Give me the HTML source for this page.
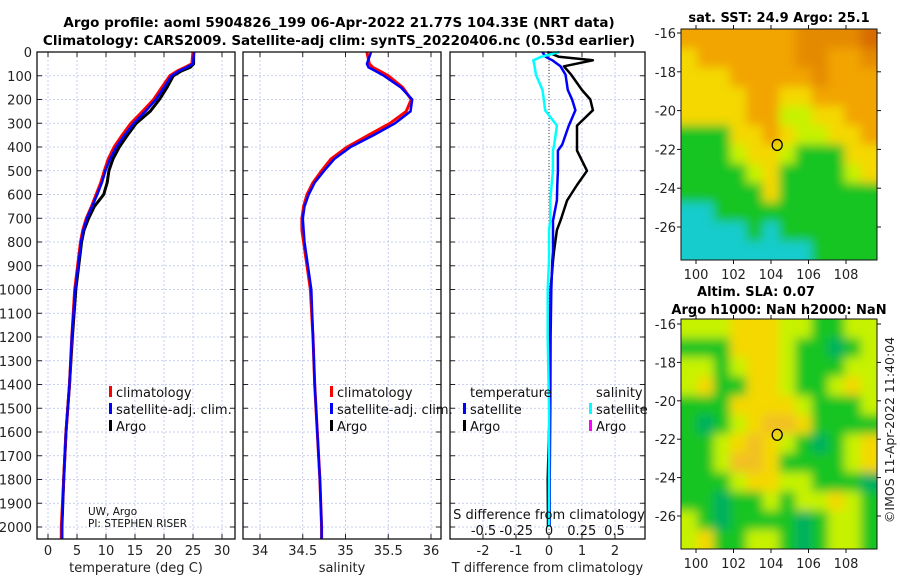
<!DOCTYPE html>
<html><head><meta charset="utf-8">
<style>
html,body{margin:0;padding:0;background:#fff;}
body{width:900px;height:580px;overflow:hidden;font-family:"DejaVu Sans","Liberation Sans",sans-serif;}
svg text{font-family:"DejaVu Sans","Liberation Sans",sans-serif;}
</style></head>
<body>
<svg id="chart" width="900" height="580" viewBox="0 0 900 580" xmlns="http://www.w3.org/2000/svg">
<defs>
<filter id="blur" x="-5%" y="-5%" width="110%" height="110%"><feGaussianBlur stdDeviation="5"/></filter>
<clipPath id="clipTop"><rect x="681" y="29" width="196" height="231"/></clipPath>
<clipPath id="clipBot"><rect x="681" y="319" width="196" height="230"/></clipPath>
</defs>
<g id="titles">
<text x="339" y="27" font-size="13.5" font-weight="bold" text-anchor="middle">Argo profile: aoml 5904826_199 06-Apr-2022 21.77S 104.33E (NRT data)</text>
<text x="339" y="45" font-size="13.5" font-weight="bold" text-anchor="middle">Climatology: CARS2009. Satellite-adj clim: synTS_20220406.nc (0.53d earlier)</text>
<text x="779" y="22" font-size="13" font-weight="bold" text-anchor="middle">sat. SST: 24.9 Argo: 25.1</text>
<text x="756" y="296" font-size="13" font-weight="bold" text-anchor="middle">Altim. SLA: 0.07</text>
<text x="779" y="314" font-size="13" font-weight="bold" text-anchor="middle">Argo h1000: NaN h2000: NaN</text>
<text transform="translate(894,430) rotate(-90)" font-size="12.5" fill="#222" text-anchor="middle">©IMOS 11-Apr-2022 11:40:04</text>
</g>
<g id="panels"></g>
<g id="maps"></g>
</svg>
<script>
// ---------- data ----------
const depthTicks = [0,100,200,300,400,500,600,700,800,900,1000,1100,1200,1300,1400,1500,1600,1700,1800,1900,2000];
const tempTicks = [0,5,10,15,20,25,30];
const salTicks = [34,34.5,35,35.5,36];
const salTickLabels = ["34","34.5","35","35.5","36"];
const tdiffTicks = [-2,-1,0,1,2];
const sdiffTicks = [-0.5,-0.25,0,0.25,0.5];
const sdiffTickLabels = ["-0.5","-0.25","0","0.25","0.5"];

const profDepths = [0,50,65,80,100,150,200,250,300,350,400,450,500,550,600,650,700,750,800,900,1000,1200,1400,1600,1800,2000,2050];
const tempClim = [25,24.8,23.6,22.3,21.0,19.6,18.2,16.3,14.3,12.8,11.4,10.4,9.7,9.1,8.3,7.5,6.6,6.0,5.6,5.1,4.6,4.1,3.7,3.1,2.7,2.3,2.3];
const tempSat  = [25.2,25.0,23.9,22.6,21.3,20.0,18.6,16.8,14.8,13.2,11.8,10.7,9.9,9.3,8.5,7.6,6.7,6.1,5.7,5.2,4.7,4.1,3.7,3.1,2.7,2.4,2.4];
const tempArgo = [25.1,25.1,24.5,23.0,21.6,20.5,19.2,17.6,15.2,13.7,12.3,11.2,10.5,10.2,9.6,8.0,7.0,6.2,5.8,5.3,4.8,4.2,3.7,3.1,2.7,2.4,2.4];

const salClim = [35.25,35.28,35.32,35.40,35.5,35.67,35.77,35.71,35.52,35.27,35.02,34.83,34.72,34.62,34.55,34.51,34.49,34.49,34.51,34.55,34.59,34.62,34.64,34.67,34.70,34.72,34.72];
const salSat  = [35.30,35.25,35.27,35.35,35.45,35.65,35.78,35.76,35.58,35.33,35.06,34.87,34.75,34.64,34.57,34.52,34.50,34.51,34.52,34.56,34.60,34.62,34.64,34.67,34.70,34.72,34.72];

const diffDepths = [0,20,35,60,95,160,200,245,310,390,415,500,560,625,710,750,840,880,1000,1200,1500,1800,2000];
const tdiffSat  = [-0.2,-0.1,0.1,0.35,0.5,0.57,0.7,0.8,0.6,0.4,0.27,0.27,0.25,0.24,0.12,0.12,0.12,0.1,0.07,0.05,0.04,0.02,0.02];
const tdiffArgo = [-0.05,0.3,1.33,0.45,0.67,1.0,1.25,1.33,0.85,0.85,0.85,1.15,0.85,0.55,0.35,0.24,0.15,0.12,0.05,0.03,0.02,-0.04,-0.03];
const sdiffSat  = [0.08,-0.06,-0.12,-0.11,-0.10,-0.05,-0.04,-0.03,0.06,0.04,0.03,0.03,0.02,0.01,0.01,0.0,0.0,0.0,-0.01,-0.01,0.0,0.0,0.0];

const lonTicks = [100,102,104,106,108];
const latTicks = [-16,-18,-20,-22,-24,-26];
const argoLon = 104.33, argoLat = -21.77;
const sstRows = [
"OOOOOOODDDDR","YOOOOOODDOOD","YYYOOOOODOOO","YYYYOOYYOOOO",
"YYYYOOLLYYOO","GGGYYOYLLYYO","GGGLYYLGGGYY","GGGGLYGGGGLY",
"GGGGGYGGGGGG","CCGGGGGGGGGG","CCCCGCGGGGGG","CCCCCCCCGGGG"];
const slaRows = [
"LLLYYYLLGGLL","GGGYYYLGGgGL","LLGLYYLGGGLL","LYGGYYLGGLYL",
"GGGYYYYLGGGL","GgGLYyyYGGGG","GGLYyYLGgGLY","GGLyyYGGGGLY",
"GGGLYYLLGGGg","GGgGGLGLLYLG","LGgGGGGgGLLG","LYGGLLGgGLLG"];
const palette = {O:"#f2a400",D:"#e48a00",R:"#d86c00",Y:"#f4d800",L:"#c6f200",G:"#12c424",C:"#12cccc",g:"#00b060",y:"#f2c020"};

// ---------- helpers ----------
const NS = "http://www.w3.org/2000/svg";
function mk(tag, attrs, parent){const e=document.createElementNS(NS,tag);for(const k in attrs)e.setAttribute(k,attrs[k]);parent.appendChild(e);return e;}
const yTop = 52, yBot = 539;
const yD = d => yTop + d*(527-yTop)/2000;
const panelsG = document.getElementById('panels');
const mapsG = document.getElementById('maps');

function panel(name, x0, x1, xfun, ticks, labels, xtitle, showY){
  const g = mk('g',{},panelsG);
  
  
  depthTicks.forEach(d=>{ const l=mk('line',{x1:x0,x2:x1,y1:yD(d),y2:yD(d),stroke:"#b8c0e8","stroke-width":0.8,"stroke-dasharray":"2,2"},g);
      });
  ticks.forEach(t=>{ const l=mk('line',{x1:xfun(t),x2:xfun(t),y1:yTop,y2:yBot,stroke:"#b8c0e8","stroke-width":0.8,"stroke-dasharray":"2,2"},g);
      });
  depthTicks.forEach(d=>{ mk('line',{x1:x0,x2:x0+5,y1:yD(d),y2:yD(d),stroke:"#222"},g); mk('line',{x1:x1-5,x2:x1,y1:yD(d),y2:yD(d),stroke:"#222"},g);
    if(showY){ const t=mk('text',{x:x0-5,y:yD(d)+5,"font-size":13,"text-anchor":"end",fill:"#222"},g); t.textContent=d;
        }});
  ticks.forEach((v,i)=>{ mk('line',{x1:xfun(v),x2:xfun(v),y1:yBot-5,y2:yBot,stroke:"#222"},g); mk('line',{x1:xfun(v),x2:xfun(v),y1:yTop,y2:yTop+5,stroke:"#222"},g);
    const t=mk('text',{x:xfun(v),y:555,"font-size":13,"text-anchor":"middle",fill:"#222"},g); t.textContent=labels[i];
      });
  const tt=mk('text',{x:(x0+x1)/2,y:572,"font-size":13,"text-anchor":"middle",fill:"#222"},g); tt.textContent=xtitle;
   
  return g;
}
function frame(g,x0,x1){ const r=mk('rect',{x:x0,y:yTop,width:x1-x0,height:yBot-yTop,fill:"none",stroke:"#111","stroke-width":1.3},g);
    }
function series(g,name,xs,ds,xfun,color,w){
  const pts = xs.map((v,i)=>xfun(v).toFixed(1)+","+yD(ds[i]).toFixed(1)).join(" ");
  const p=mk('polyline',{points:pts,fill:"none",stroke:color,"stroke-width":w,"stroke-linejoin":"round"},g);
  
  
}
function legendEntry(g,name,x,y,color,label){
  const e=mk('g',{},g);
  
  
  if(color) mk('rect',{x:x,y:y-11,width:3,height:11,fill:color},e);
  const t=mk('text',{x:x+7,y:y,"font-size":13,fill:"#111"},e); t.textContent=label;
}

// panel 1: temperature
const xT = t => 48 + t*5.8;
const g1 = panel('temperature-panel',37,235,xT,tempTicks,tempTicks.map(String),'temperature (deg C)',true);
series(g1,'argo-temperature-line',tempArgo,profDepths,xT,"#000",3);
series(g1,'climatology-temperature-line',tempClim,profDepths,xT,"#f00",3);
series(g1,'satellite-temperature-line',tempSat,profDepths,xT,"#00f",2.5);
frame(g1,37,235);
legendEntry(g1,'legend-climatology',109,397,"#f00","climatology");
legendEntry(g1,'legend-satellite-adj',109,414,"#00f","satellite-adj. clim.");
legendEntry(g1,'legend-argo',109,431,"#000","Argo");
{const t=mk('text',{x:88,y:515,"font-size":10.5,fill:"#111"},g1);t.textContent="UW, Argo";
 const t2=mk('text',{x:88,y:527,"font-size":10.5,fill:"#111"},g1);t2.textContent="PI: STEPHEN RISER";}

// panel 2: salinity
const xS = s => 260 + (s-34)*85.5;
const g2 = panel('salinity-panel',243,441,xS,salTicks,salTickLabels,'salinity',false);
series(g2,'climatology-salinity-line',salClim,profDepths,xS,"#f00",3);
series(g2,'satellite-salinity-line',salSat,profDepths,xS,"#00f",2.5);
frame(g2,243,441);
legendEntry(g2,'legend-climatology-sal',330,397,"#f00","climatology");
legendEntry(g2,'legend-satellite-adj-sal',330,414,"#00f","satellite-adj. clim.");
legendEntry(g2,'legend-argo-sal',330,431,"#000","Argo");

// panel 3: differences
const xTd = d => 549 + d*33;
const xSd = d => 549 + d*131;
const g3 = panel('difference-panel',450,645,xTd,tdiffTicks,tdiffTicks.map(String),'T difference from climatology',false);
{const z=mk('line',{x1:549,x2:549,y1:yTop,y2:yBot,stroke:"#444","stroke-dasharray":"1,2"},g3);  }
series(g3,'argo-tdiff-line',tdiffArgo,diffDepths,xTd,"#000",2.5);
series(g3,'satellite-tdiff-line',tdiffSat,diffDepths,xTd,"#00f",2.5);
series(g3,'satellite-sdiff-line',sdiffSat,diffDepths,xSd,"#00ffff",2.5);
frame(g3,450,645);
legendEntry(g3,'legend-temperature-header',463,397,null,"temperature");
legendEntry(g3,'legend-t-satellite',463,414,"#00f","satellite");
legendEntry(g3,'legend-t-argo',463,431,"#000","Argo");
legendEntry(g3,'legend-salinity-header',589,397,null,"salinity");
legendEntry(g3,'legend-s-satellite',589,414,"#00ffff","satellite");
legendEntry(g3,'legend-s-argo',589,431,"#ff00ff","Argo");
{const t=mk('text',{x:549,y:519,"font-size":13,"text-anchor":"middle",fill:"#111"},g3);t.textContent="S difference from climatology";}
sdiffTicks.forEach((v,i)=>{const t=mk('text',{x:xSd(v),y:535,"font-size":13,"text-anchor":"middle",fill:"#111"},g3);t.textContent=sdiffTickLabels[i];
  });

// maps
function map(name, top, bottom, lat16y, lat26y, rows, clipId){
  const g=mk('g',{},mapsG);
  
  
  const x0=681,x1=877;
  const lonX = lo => 696 + (lo-100)*18.75;
  const latY = la => lat16y + (-16-la)*(lat26y-lat16y)/10;
  const nr=rows.length,nc=rows[0].length;
  const cw=(x1-x0)/nc, ch=(bottom-top)/nr;
  const cg=mk('g',{"clip-path":"url(#"+clipId+")"},g);
  const fg=mk('g',{filter:"url(#blur)"},cg);
  rows.forEach((r,i)=>{ for(let j=0;j<nc;j++){
    // extend edge cells outward so blur doesn't fade at borders
    const ex0 = j===0?-10:0, ex1 = j===nc-1?10:0, ey0 = i===0?-10:0, ey1 = i===nr-1?10:0;
    const c=mk('rect',{x:(x0+j*cw+ex0).toFixed(1),y:(top+i*ch+ey0).toFixed(1),width:(cw+0.6-ex0+ex1).toFixed(1),height:(ch+0.6-ey0+ey1).toFixed(1),fill:palette[r[j]]},fg);
      }});
  mk('rect',{x:x0,y:top,width:x1-x0,height:bottom-top,fill:"none",stroke:"#111","stroke-width":1},g);
  latTicks.forEach(la=>{ mk('line',{x1:x0-4,x2:x0,y1:latY(la),y2:latY(la),stroke:"#111"},g); mk('line',{x1:x1,x2:x1+4,y1:latY(la),y2:latY(la),stroke:"#111"},g);
    const t=mk('text',{x:x0-5,y:latY(la)+5,"font-size":13,"text-anchor":"end",fill:"#222"},g); t.textContent=la;
      });
  lonTicks.forEach(lo=>{ mk('line',{x1:lonX(lo),x2:lonX(lo),y1:bottom,y2:bottom+4,stroke:"#111"},g); mk('line',{x1:lonX(lo),x2:lonX(lo),y1:top-4,y2:top,stroke:"#111"},g);
    const t=mk('text',{x:lonX(lo),y:bottom+19,"font-size":13,"text-anchor":"middle",fill:"#222"},g); t.textContent=lo;
      });
  const m=mk('ellipse',{cx:lonX(argoLon),cy:latY(argoLat),rx:5,ry:5.5,fill:"none",stroke:"#000","stroke-width":1.3},g);
   
}
map('sst-map',29,260,33,227,sstRows,'clipTop');
map('sla-map',319,549,324,516,slaRows,'clipBot');
</script>
</body></html>
